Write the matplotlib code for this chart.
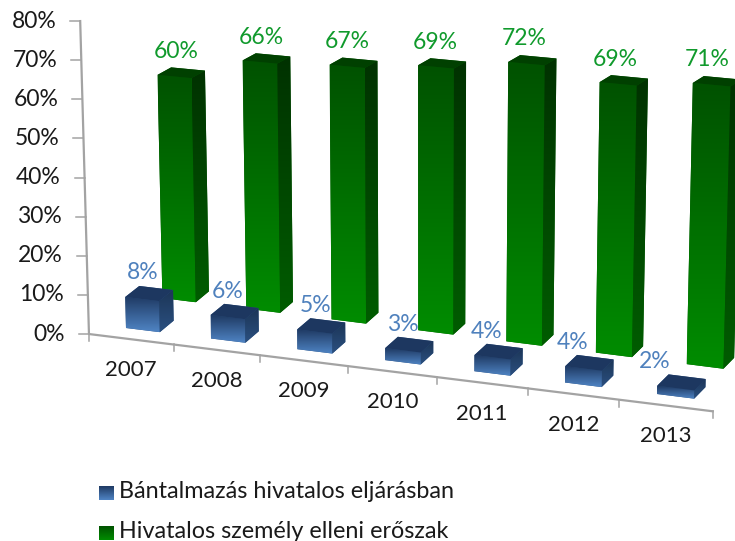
import numpy as np
import matplotlib
matplotlib.use("Agg")
import matplotlib.pyplot as plt
from matplotlib.colors import LinearSegmentedColormap
from matplotlib.patches import Polygon

years = ["2007", "2008", "2009", "2010", "2011", "2012", "2013"]
blue_vals = [8, 6, 5, 3, 4, 4, 2]
green_vals = [60, 66, 67, 69, 72, 69, 71]
y_ticks = [0, 10, 20, 30, 40, 50, 60, 70, 80]
series_names = ["Bántalmazás hivatalos eljárásban", "Hivatalos személy elleni erőszak"]

plt.rcParams["font.family"] = ["Lato", "DejaVu Sans"]
W, H = 735, 541
BAR_W = 0.4
AXIS_U, AXIS_D = -0.306, -0.8
GREEN_D = 2.6


def proj(u, d, v):
    """Chart space (category, depth, percent) -> picture pixels, slight perspective."""
    x = 126 + 84.3 * u + 0.7 * u * u + d * (14 - 0.43 * u)
    y = 328 + 10.4 * u + 0.1 * u * u - d * 11.5
    h = v * (3.72 + 0.04 * u + 0.06 * (GREEN_D - d))
    return x + h * (x - 425) / 12000, y - h


def shade(ax, pts, top, bottom, z):
    pts = np.array(pts)
    cmap = LinearSegmentedColormap.from_list("f", [top, bottom])
    x0, x1 = pts[:, 0].min(), pts[:, 0].max()
    y0, y1 = pts[:, 1].min(), pts[:, 1].max()
    im = ax.imshow(np.linspace(0, 1, 64)[:, None], extent=(x0, x1, y1, y0), origin="upper",
                   cmap=cmap, aspect="auto", zorder=z, interpolation="bilinear")
    im.set_clip_path(Polygon(pts, closed=True, transform=ax.transData))


def bar3d(ax, c, v, d, depth, cols, z):
    u0, u1 = c, c + BAR_W
    d1 = d + depth
    front = [proj(u0, d, v), proj(u1, d, v), proj(u1, d, 0), proj(u0, d, 0)]
    side = [proj(u1, d, v), proj(u1, d1, v), proj(u1, d1, 0), proj(u1, d, 0)]
    top = [proj(u0, d, v), proj(u0, d1, v), proj(u1, d1, v), proj(u1, d, v)]
    # backing shape closes the seams the clipped gradients leave
    hull = [proj(u0, d, v), proj(u0, d1, v), proj(u1, d1, v), proj(u1, d1, 0),
            proj(u1, d, 0), proj(u0, d, 0)]
    ax.add_patch(Polygon(hull, closed=True, fc=cols[3], ec="none", zorder=z))
    shade(ax, front, cols[0], cols[1], z)
    shade(ax, side, cols[2], cols[3], z)
    ax.add_patch(Polygon(top, closed=True, fc=cols[4], ec="none", zorder=z))


GREEN = ("#005200", "#008c00", "#003200", "#005c00", "#004000")
BLUE = ("#1f3a63", "#4f84c4", "#1c3557", "#2b5080", "#1d3760")

fig = plt.figure(figsize=(W / 100, H / 100), dpi=100)
ax = fig.add_axes([0, 0, 1, 1])

# axes first, bars sit on top
top_x, top_y = proj(AXIS_U, AXIS_D, y_ticks[-1])
low_x, low_y = proj(AXIS_U, AXIS_D, 0)
end_x, end_y = proj(AXIS_U + len(years), AXIS_D, 0)
ax.plot([top_x, low_x, end_x], [top_y, low_y, end_y], color="#a3a3a3", lw=1.6, zorder=1)
for t in y_ticks:
    x, y = proj(AXIS_U, AXIS_D, t)
    ax.plot([x - 10, x], [y, y], color="#a3a3a3", lw=1.1, zorder=1)
    ax.text(x - 24, y, f"{t}%", ha="right", va="center", fontsize=16.5, color="#1a1a1a")
for i in range(len(years) + 1):
    x, y = proj(AXIS_U + i, AXIS_D, 0)
    ax.plot([x, x], [y, y + 7], color="#a3a3a3", lw=1.1, zorder=1)
for i, yr in enumerate(years):
    x, y = proj(AXIS_U + i + 0.5, AXIS_D, 0)
    ax.text(x, y + 31, yr, ha="center", va="center", fontsize=16, color="#1a1a1a")

for i, v in enumerate(green_vals):
    bar3d(ax, i, v, GREEN_D, 0.95, GREEN, 2)
    x, y = proj(i, GREEN_D, v)
    ax.text(x + 19 - 0.7 * i, y - 23, f"{v}%", ha="center", va="center", fontsize=16.5,
            color="#109a2c", zorder=5)

blue_dx = [17, 17, 18, 18, 12, 7, -2]
for i, v in enumerate(blue_vals):
    bar3d(ax, i, v, 0, 1.0, BLUE, 3)
    x, y = proj(i, 0, v)
    ax.text(x + blue_dx[i], y - 24, f"{v}%", ha="center", va="center", fontsize=16.5,
            color="#4f81bd", zorder=5)

# legend, drawn by hand to keep the shaded swatches
for name, y, sy, cols in zip(series_names, [492, 531], [493, 533], [BLUE, GREEN]):
    shade(ax, [(99, sy - 7), (114, sy - 7), (114, sy + 7), (99, sy + 7)], cols[0], cols[1], 2)
    ax.text(119, y, name, ha="left", va="center", fontsize=16.8, color="#1a1a1a")

ax.set_xlim(0, W)
ax.set_ylim(H, 0)
ax.axis("off")
fig.savefig("out.png", dpi=100, facecolor="white")
